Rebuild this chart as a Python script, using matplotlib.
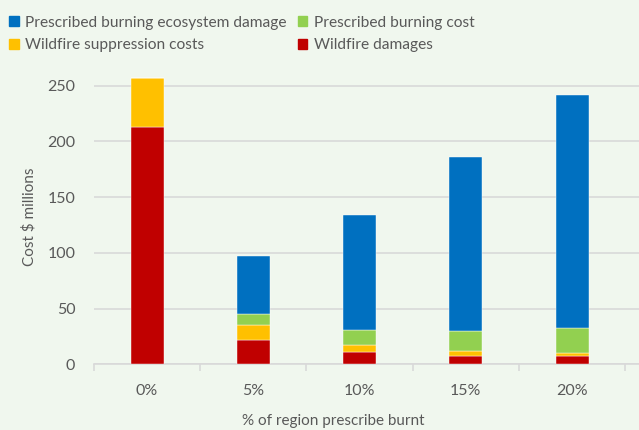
import numpy as np
import matplotlib
matplotlib.use('Agg')
import matplotlib.pyplot as plt
from matplotlib.patches import Patch

plt.rcParams['font.family'] = ['Lato', 'DejaVu Sans']

# values ($ millions)
categories = ['0%', '5%', '10%', '15%', '20%']
wildfire_damages = [213, 22, 11.3, 7.8, 7.8]
suppression_costs = [44, 13.5, 6, 4.2, 2.6]
burning_cost = [0, 10, 13.2, 17.6, 22.5]
ecosystem_damage = [0, 52, 103.5, 156.4, 209]

series = [
    ('Wildfire damages', wildfire_damages, '#C00000'),
    ('Wildfire suppression costs', suppression_costs, '#FFC000'),
    ('Prescribed burning cost', burning_cost, '#92D050'),
    ('Prescribed burning ecosystem damage', ecosystem_damage, '#0070C0'),
]

bg = '#F0F7EE'
txt = '#595959'

fig = plt.figure(figsize=(6.39, 4.30), dpi=100, facecolor=bg)
ax = fig.add_axes([94 / 639, 65.7 / 430, 1 - 94 / 639, 0.8395 - 65.7 / 430])
ax.set_facecolor(bg)

x = np.arange(len(categories))
bottom = np.zeros(len(categories))
for name, vals, col in series:
    vals = np.array(vals, dtype=float)
    ax.bar(x, vals, width=0.31, bottom=bottom, color=col, zorder=3,
           edgecolor='#FFFFFF', linewidth=0.3)
    bottom += vals

ax.set_xlim(-0.5, 4.63)
ax.set_ylim(0, 265)
ax.set_yticks(range(0, 251, 50))
ax.yaxis.grid(True, color='#D9D9D9', linewidth=1.2, zorder=0)
ax.set_xticks(x)
ax.set_xticklabels(categories)
ax.set_xticks(np.arange(-0.5, 4.6, 1.0), minor=True)
ax.tick_params(axis='x', which='major', length=0, pad=14, labelsize=11.5, labelcolor=txt)
ax.tick_params(axis='x', which='minor', length=5, color='#D9D9D9', width=1.2)
ax.tick_params(axis='y', length=0, pad=13.5, labelsize=11.5, labelcolor=txt)
for s in ['top', 'right', 'left']:
    ax.spines[s].set_visible(False)
ax.spines['bottom'].set_color('#D9D9D9')
ax.spines['bottom'].set_linewidth(1.2)

ax.set_ylabel('Cost $ millions', fontsize=11, color=txt)
ax.yaxis.set_label_coords(-58 / 545, 0.5)
ax.set_xlabel('% of region prescribe burnt', fontsize=11, color=txt)
ax.xaxis.set_label_coords((333 - 94) / 545, -50 / 298.6)

# legend laid out like the original: two rows, two columns
handles = [Patch(color='#0070C0', label='Prescribed burning ecosystem damage'),
           Patch(color='#FFC000', label='Wildfire suppression costs'),
           Patch(color='#92D050', label='Prescribed burning cost'),
           Patch(color='#C00000', label='Wildfire damages')]
fig.legend(handles=handles, ncol=2, loc='upper left', bbox_to_anchor=(0.0, 0.985),
           frameon=False, fontsize=11.2, labelcolor=txt, handlelength=0.6,
           handleheight=0.6, handletextpad=0.4, columnspacing=0.75,
           labelspacing=0.55, borderaxespad=0.2, borderpad=0.4)

fig.savefig('out.png', dpi=100, facecolor=bg)
